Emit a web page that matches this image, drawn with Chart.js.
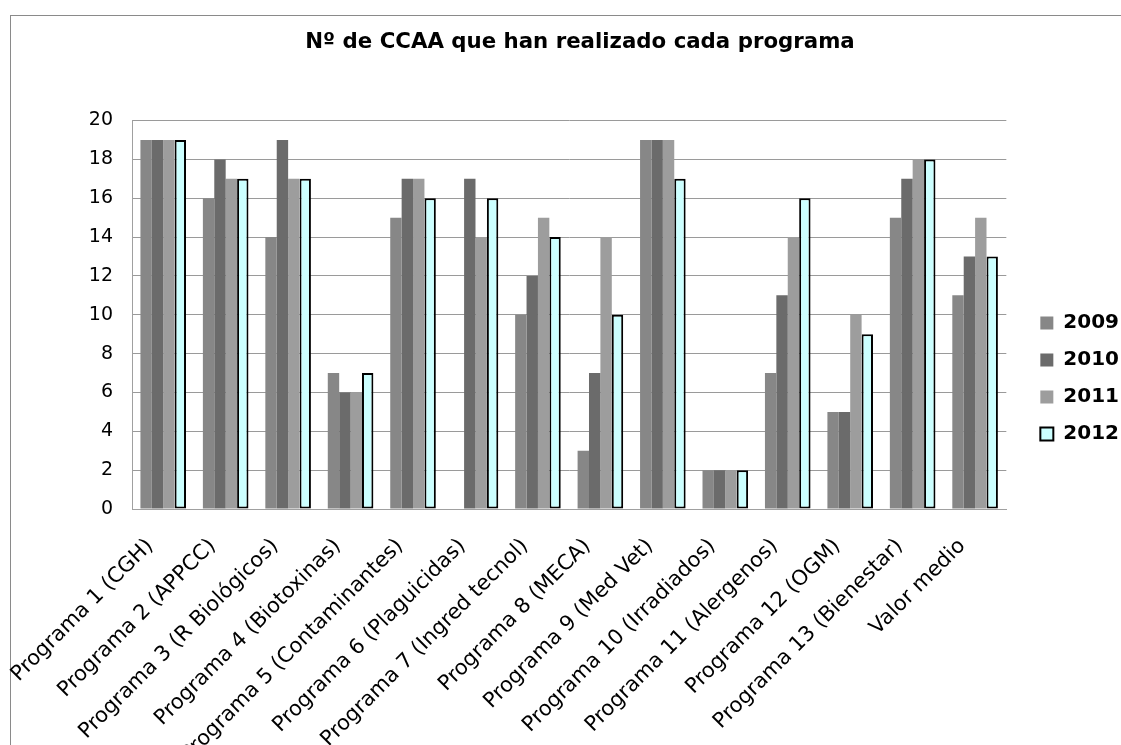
<!DOCTYPE html>
<html>
<head>
<meta charset="utf-8">
<script src="https://cdn.jsdelivr.net/npm/chart.js@4.4.1/dist/chart.umd.min.js"></script>
<style>
    html, body { margin: 0; padding: 0; overflow: hidden; background: #ffffff; }
    #marco { position: absolute; left: 10px; top: 15px; width: 1200px; height: 800px; border-top: 1px solid #8a8a8a; border-left: 1px solid #8a8a8a; }
    #grafico { position: absolute; left: 0; top: 0; }
</style>
</head>
<body>
<div id="marco"></div>
<canvas id="grafico" width="1129" height="757"></canvas>
<script>
const programas = [
    "Programa 1 (CGH)", "Programa 2 (APPCC)", "Programa 3 (R Biológicos)", "Programa 4 (Biotoxinas)",
    "Programa 5 (Contaminantes)", "Programa 6 (Plaguicidas)", "Programa 7 (Ingred tecnol)", "Programa 8 (MECA)",
    "Programa 9 (Med Vet)", "Programa 10 (Irradiados)", "Programa 11 (Alergenos)", "Programa 12 (OGM)",
    "Programa 13 (Bienestar)", "Valor medio"
];
const anios = ["2009", "2010", "2011", "2012"];
const datos2009 = [19, 16, 14, 7, 15, 0, 10, 3, 19, 2, 7, 5, 15, 11];
const datos2010 = [19, 18, 19, 6, 17, 17, 12, 7, 19, 2, 11, 5, 17, 13];
const datos2011 = [19, 17, 17, 6, 17, 14, 15, 14, 19, 2, 14, 10, 18, 15];
const datos2012 = [19, 17, 17, 7, 16, 16, 14, 10, 17, 2, 16, 9, 18, 13];
const ticksY = [0, 2, 4, 6, 8, 10, 12, 14, 16, 18, 20];

Chart.defaults.font.family = "'DejaVu Sans', Verdana, sans-serif";
Chart.defaults.color = "#000000";

function serie(label, data, color, borde) {
    return {
        label: label,
        data: data,
        backgroundColor: color,
        borderColor: borde ? "#000000" : color,
        borderWidth: borde ? 2 : 0,
        borderSkipped: false,
        categoryPercentage: 0.73,
        barPercentage: 1.0
    };
}

let ctx = document.getElementById("grafico").getContext("2d");
new Chart(ctx, {
    type: "bar",
    data: {
        labels: programas,
        datasets: [
            serie(anios[0], datos2009, "#878787", false),
            serie(anios[1], datos2010, "#6b6b6b", false),
            serie(anios[2], datos2011, "#9d9d9d", false),
            serie(anios[3], datos2012, "#ccffff", true)
        ]
    },
    options: {
        responsive: false,
        animation: false,
        layout: { padding: { left: 31, right: 0, top: 0, bottom: 0 } },
        scales: {
            x: {
                grid: { display: false },
                border: { display: true, color: "#a0a0a0", width: 1 },
                ticks: {
                    autoSkip: false, maxRotation: 45, minRotation: 45,
                    padding: 17, labelOffset: -13, font: { size: 21 }, color: "#000000"
                },
                afterFit: scale => { scale.height = 757 - 509; }
            },
            y: {
                min: 0, max: 20,
                afterBuildTicks: scale => { scale.ticks = ticksY.map(v => ({ value: v })); },
                grid: { color: "#9a9a9a", lineWidth: 1, drawTicks: false },
                border: { display: true, color: "#a0a0a0", width: 1 },
                ticks: { padding: 19, font: { size: 19 }, color: "#000000" },
                afterFit: scale => { scale.width = 132 - 31; }
            },
            hueco: {
                type: "linear", position: "right", display: true,
                grid: { display: false }, border: { display: false },
                ticks: { display: false },
                afterFit: scale => { scale.width = 17; }
            }
        },
        plugins: {
            title: {
                display: true,
                text: "Nº de CCAA que han realizado cada programa",
                font: { size: 21.3, weight: "bold" },
                color: "#000000",
                padding: { top: 30, bottom: 65 }
            },
            legend: {
                position: "right",
                labels: {
                    boxWidth: 13, boxHeight: 13, padding: 17,
                    font: { size: 20, weight: "bold" }, color: "#000000"
                }
            },
            tooltip: { enabled: false }
        }
    }
});
</script>
</body>
</html>
